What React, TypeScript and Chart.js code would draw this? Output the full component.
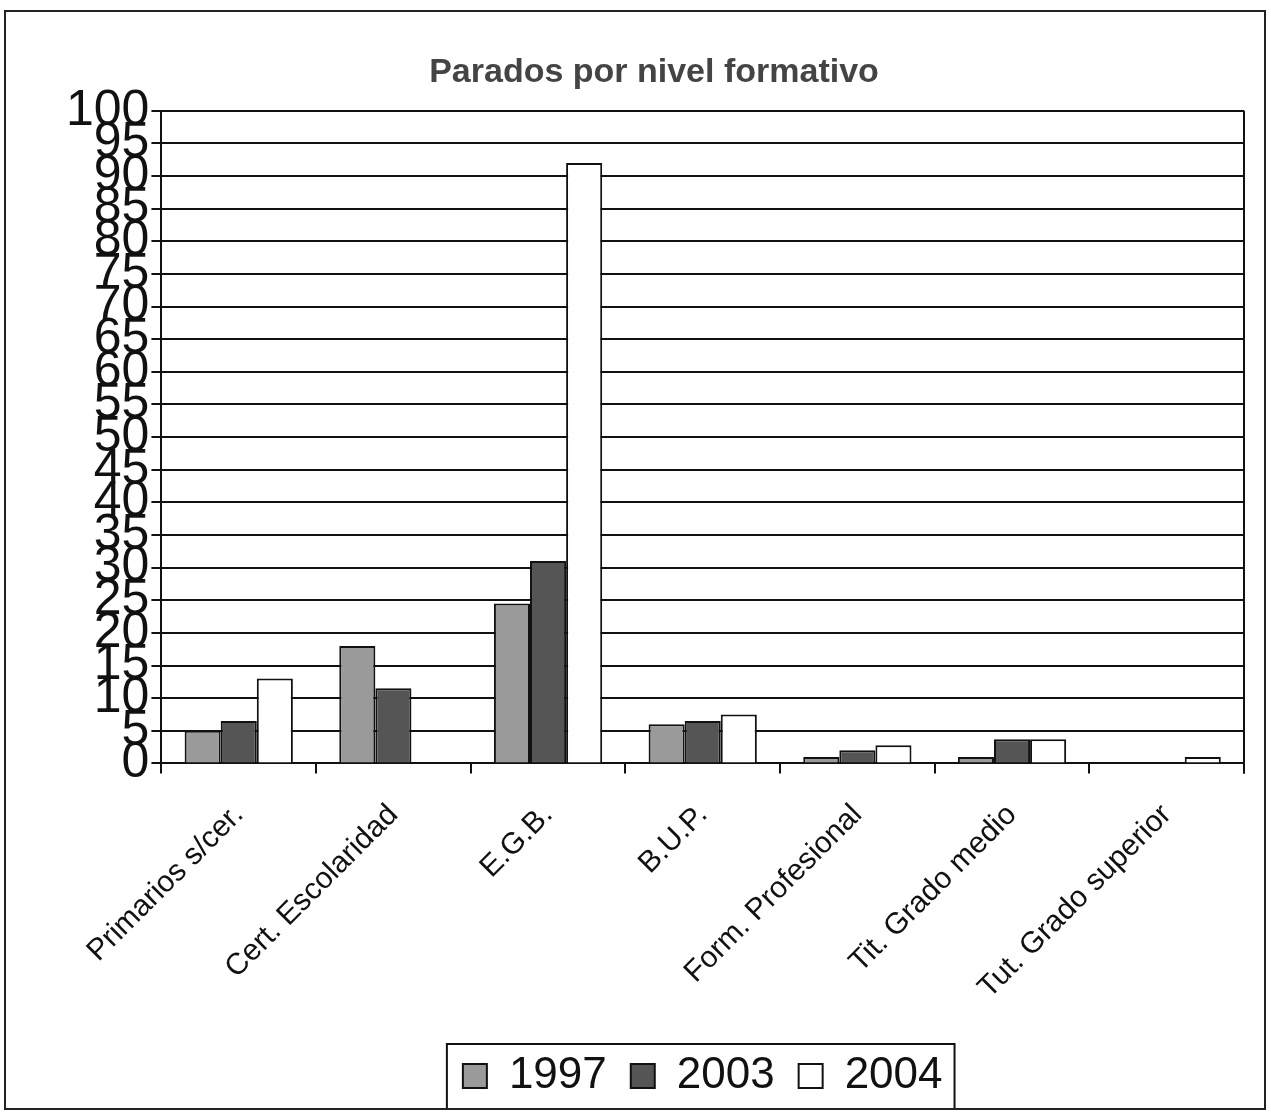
import React, { useEffect, useRef } from "react";
import { Chart, registerables } from "chart.js";

Chart.register(...registerables);

const categories = [
  "Primarios s/cer.",
  "Cert. Escolaridad",
  "E.G.B.",
  "B.U.P.",
  "Form. Profesional",
  "Tit. Grado medio",
  "Tut. Grado superior",
];
const series1997 = [5, 18, 24.5, 6, 1, 1, 0];
const series2003 = [6.5, 11.5, 31, 6.5, 2, 3.7, 0];
const series2004 = [13, 0, 92, 7.5, 2.8, 3.7, 1];
const yTicks = [0, 5, 10, 15, 20, 25, 30, 35, 40, 45, 50, 55, 60, 65, 70, 75, 80, 85, 90, 95, 100];

const FONT = "'Liberation Sans', Arial, sans-serif";

const framePlugin = {
  id: "framePlugin",
  afterDraw(chart: any) {
    const ctx = chart.ctx;
    const { right, top, bottom } = chart.chartArea;
    ctx.save();
    ctx.strokeStyle = "#111";
    ctx.lineWidth = 2;
    ctx.beginPath();
    ctx.moveTo(right, top);
    ctx.lineTo(right, bottom + 10);
    ctx.stroke();
    const lg = chart.legend;
    if (lg && lg.legendHitBoxes && lg.legendHitBoxes.length) {
      const boxes = lg.legendHitBoxes;
      const first = boxes[0];
      const last = boxes[boxes.length - 1];
      const x0 = first.left - 16;
      const x1 = last.left + last.width + 12;
      const y0 = first.top - 10;
      ctx.lineWidth = 2;
      ctx.strokeRect(x0, y0, x1 - x0, lg.bottom - y0 + 4);
    }
    ctx.restore();
  },
};

export default function App() {
  const ref = useRef<HTMLCanvasElement>(null);
  useEffect(() => {
    if (!ref.current) return;
    const chart = new Chart(ref.current, {
      type: "bar",
      data: {
        labels: categories,
        datasets: [
          { label: "1997", data: series1997, backgroundColor: "#9a9a9a", borderColor: "#111", borderWidth: 2 },
          { label: "2003", data: series2003, backgroundColor: "#555555", borderColor: "#111", borderWidth: 2 },
          { label: "2004", data: series2004, backgroundColor: "#ffffff", borderColor: "#111", borderWidth: 2 },
        ],
      },
      options: {
        animation: false,
        responsive: true,
        maintainAspectRatio: false,
        layout: { padding: { left: 58, right: 20, top: 0, bottom: 0 } },
        datasets: { bar: { categoryPercentage: 0.7, barPercentage: 1.0 } },
        scales: {
          x: {
            grid: { drawOnChartArea: false, drawTicks: true, tickLength: 10, color: "#111", lineWidth: 2, offset: true },
            border: { color: "#111", width: 2 },
            ticks: {
              color: "#111",
              font: { family: FONT, size: 30 },
              minRotation: 45,
              maxRotation: 45,
              autoSkip: false,
              padding: 24,
            },
          },
          y: {
            min: 0,
            max: 100,
            afterBuildTicks: (axis: any) => {
              axis.ticks = yTicks.map((v) => ({ value: v }));
            },
            grid: { color: "#111", lineWidth: 2, drawTicks: true, tickLength: 10 },
            border: { color: "#111", width: 2 },
            ticks: {
              color: "#111",
              font: { family: FONT, size: 50 },
              autoSkip: false,
              padding: 2,
            },
          },
        },
        plugins: {
          title: {
            display: true,
            text: "Parados por nivel formativo",
            color: "#444",
            font: { family: FONT, size: 34, weight: "bold" },
            padding: { top: 40, bottom: 18 },
          },
          legend: {
            position: "bottom",
            fullSize: false,
            labels: {
              color: "#111",
              font: { family: FONT, size: 44 },
              boxWidth: 24,
              boxHeight: 24,
              padding: 24,
              generateLabels: (chart: any) =>
                chart.data.datasets.map((ds: any, i: number) => ({
                  text: ds.label,
                  fillStyle: ds.backgroundColor,
                  strokeStyle: "#111",
                  lineWidth: 2,
                  datasetIndex: i,
                  fontColor: "#111",
                })),
            },
          },
          tooltip: { enabled: false },
        },
      },
      plugins: [framePlugin],
    });
    return () => chart.destroy();
  }, []);
  return (
    <div
      style={{
        position: "absolute",
        left: 4,
        top: 10,
        width: 1262,
        height: 1100,
        border: "2px solid #222",
        boxSizing: "border-box",
        background: "#fff",
      }}
    >
      <canvas ref={ref} />
    </div>
  );
}
